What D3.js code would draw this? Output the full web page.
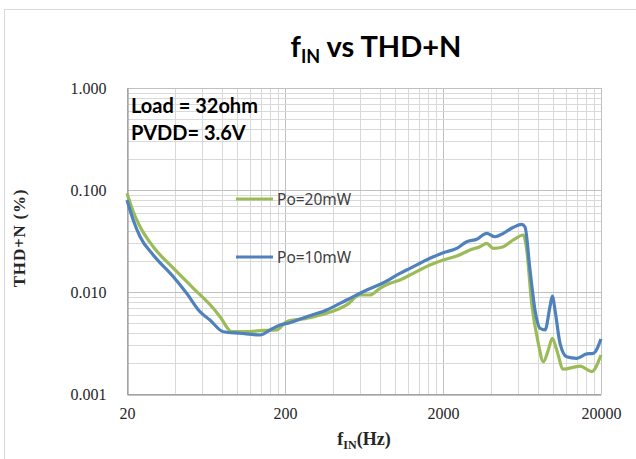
<!DOCTYPE html>
<html><head><meta charset="utf-8">
<script src="https://cdn.jsdelivr.net/npm/d3@7/dist/d3.min.js"></script>
<style>body{margin:0;background:#fff;}svg{display:block;}</style>
</head><body>
<script>
// Po=10mW (blue)
const freq10 = [20,21.9,24.2,29.3,39.3,47.7,57.9,67,81.4,103.8,139,160.8,186,215,274,367,491,658,834,1068,1236,1654,2009,2442,2826,3268,3782,4266,4818,5572,6296,6608,7108,7640,8220,8848,9510,9836,10230,11010,12130,14030,16240,17870,20000];
const thd10  = [0.0798,0.0508,0.0348,0.0231,0.0141,0.00971,0.00641,0.00531,0.00408,0.00394,0.00379,0.00424,0.00475,0.0050,0.00573,0.00667,0.00835,0.01047,0.01225,0.01525,0.01707,0.02139,0.02428,0.0268,0.0311,0.0329,0.0376,0.0348,0.0376,0.0431,0.0461,0.0434,0.0164,0.00667,0.00441,0.00424,0.00718,0.00914,0.00667,0.00314,0.00232,0.00224,0.00247,0.0025,0.00346];
// Po=20mW (green)
const freq20 = [20,21.9,24.2,29.3,39.3,52.6,70.3,77.6,92,120,145.8,177,205,274,367,491,597,690,798,924,1068,1236,1654,2009,2442,2966,3428,3782,4160,4818,5572,6444,6776,7280,8020,8630,9280,9836,10490,11540,14720,17460,20000];
const thd20  = [0.0929,0.0612,0.0437,0.0278,0.0171,0.01087,0.00692,0.00573,0.00408,0.0041,0.0042,0.00424,0.00512,0.00552,0.00618,0.00746,0.00935,0.00935,0.01087,0.01217,0.0131,0.01468,0.0184,0.0206,0.02254,0.0258,0.0278,0.0300,0.0268,0.0278,0.0324,0.0362,0.0258,0.00775,0.00314,0.00207,0.0027,0.00352,0.0027,0.00175,0.00188,0.00166,0.00241];
const xTicks = [20,200,2000,20000];
const yTicks = [0.001,0.01,0.1,1];
const seriesNames = ["Po=20mW","Po=10mW"];
const seriesColors = ["#9bbb59","#4f81bd"];

const W = 636, H = 459;
const svg = d3.select("body").append("svg").attr("width",W).attr("height",H);
svg.append("rect").attr("x",4.5).attr("y",9.5).attr("width",W).attr("height",H).attr("fill","#fff").attr("stroke","#d9d9d9");

const L=127, R=601, T=88, B=394;
const x = d3.scaleLog().domain([20,20000]).range([L,R]);
const y = d3.scaleLog().domain([0.001,1]).range([B,T]);

// grid
const g = svg.append("g");
const xGrid=[], yGrid=[];
xTicks.slice(0,3).forEach(d=>{for(let k=1;k<=9;k++) xGrid.push(d*k);});
xGrid.push(20000);
yTicks.slice(0,3).forEach(d=>{for(let k=1;k<=9;k++) yGrid.push(d*k);});
yGrid.push(1);
g.selectAll(".vx").data(xGrid).join("line")
  .attr("x1",d=>Math.round(x(d))+0.5).attr("x2",d=>Math.round(x(d))+0.5).attr("y1",T).attr("y2",B)
  .attr("stroke",d=>xTicks.includes(d)?"#c0c0c0":"#d9d9d9").attr("stroke-width",1);
g.selectAll(".hy").data(yGrid).join("line")
  .attr("y1",d=>Math.round(y(d))+0.5).attr("y2",d=>Math.round(y(d))+0.5).attr("x1",L).attr("x2",R)
  .attr("stroke",d=>yTicks.some(t=>Math.abs(t-d)<1e-9)?"#c0c0c0":"#d9d9d9").attr("stroke-width",1);

// axes
const xAxis = svg.append("g").attr("transform",`translate(0,${B+0.5})`)
  .call(d3.axisBottom(x).tickValues(xTicks).tickFormat(d3.format("d")).tickSize(0).tickPadding(13));
const yAxis = svg.append("g").attr("transform",`translate(${L+0.5},0)`)
  .call(d3.axisLeft(y).tickValues(yTicks).tickFormat(d3.format(".3f")).tickSize(0).tickPadding(21));
[xAxis,yAxis].forEach(a=>{
  a.select(".domain").attr("stroke","#868686");
  a.selectAll("text").attr("fill","#262626").style("font-family","'Liberation Serif',serif").style("font-size","16px");
});

// lines
const line = d3.line().x(d=>x(d[0])).y(d=>y(d[1])).curve(d3.curveMonotoneX);
const data20 = freq20.map((f,i)=>[f,thd20[i]]);
const data10 = freq10.map((f,i)=>[f,thd10[i]]);
svg.append("path").datum(data20).attr("d",line).attr("fill","none").attr("stroke",seriesColors[0]).attr("stroke-width",3.2).attr("stroke-linejoin","round");
svg.append("path").datum(data10).attr("d",line).attr("fill","none").attr("stroke",seriesColors[1]).attr("stroke-width",3.2).attr("stroke-linejoin","round");

// legend
const legY=[199,257];
seriesNames.forEach((n,i)=>{
  svg.append("line").attr("x1",236).attr("x2",273).attr("y1",legY[i]).attr("y2",legY[i]).attr("stroke",seriesColors[i]).attr("stroke-width",3.2);
  svg.append("text").attr("x",277).attr("y",legY[i]+5.5).text(n)
    .style("font-family","'Noto Sans',sans-serif").style("font-size","15.5px").attr("fill","#404040");
});

// annotation
svg.append("text").attr("x",131).attr("y",113).text("Load = 32ohm")
  .style("font-family","Lato,sans-serif").style("font-weight","bold").style("font-size","20px").attr("fill","#000");
svg.append("text").attr("x",131).attr("y",140).text("PVDD= 3.6V")
  .style("font-family","Lato,sans-serif").style("font-weight","bold").style("font-size","20px").attr("fill","#000");

// title
const title = svg.append("text").attr("x",376).attr("y",57).attr("text-anchor","middle")
  .style("font-family","Lato,sans-serif").style("font-weight","bold").style("font-size","29px").attr("fill","#000");
title.append("tspan").text("f");
title.append("tspan").text("IN").attr("dy",6).style("font-size","18px");
title.append("tspan").text(" vs THD+N").attr("dy",-6);

// axis titles
const xt = svg.append("text").attr("x",364).attr("y",445).attr("text-anchor","middle")
  .style("font-family","'Liberation Serif',serif").style("font-weight","bold").style("font-size","18px").attr("fill","#262626");
xt.append("tspan").text("f");
xt.append("tspan").text("IN").attr("dy",4).style("font-size","12px");
xt.append("tspan").text("(Hz)").attr("dy",-4);

svg.append("text").attr("transform","translate(25,238) rotate(-90)").attr("text-anchor","middle").text("THD+N (%)")
  .style("font-family","'Liberation Serif',serif").style("font-weight","bold").style("font-size","17px").style("letter-spacing","0.8px").attr("fill","#262626");
</script>
</body></html>
